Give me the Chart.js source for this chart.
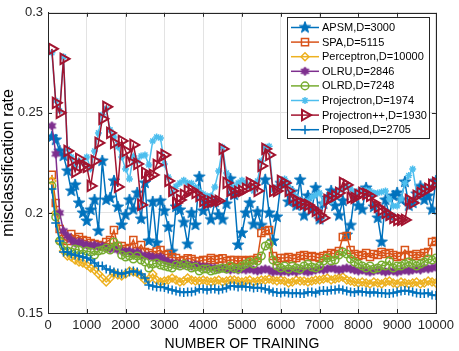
<!DOCTYPE html>
<html>
<head>
    <title>misclassification rate</title>
    <script src="https://cdn.jsdelivr.net/npm/chart.js"></script>
    <style>
        body { margin: 0; background: #fff; }
        #wrap { width: 459px; height: 351px; }
    </style>
</head>
<body>
<div id="wrap"><canvas id="myChart" width="459" height="351"></canvas></div>
<script>
// x positions: 100, 200, ... 10000
const training = [];
for (let i = 1; i <= 100; i++) training.push(i * 100);

const labels = ["APSM,D=3000", "SPA,D=5115", "Perceptron,D=10000", "OLRU,D=2846",
                "OLRD,D=7248", "Projectron,D=1974", "Projectron++,D=1930", "Proposed,D=2705"];

const apsm = [
  .238,.2365,.231,.2285,.221,.211,.214,.205,.200,.196,
  .2015,.2065,.191,.226,.2065,.2075,.216,.203,.194,.199,
  .2065,.2017,.210,.197,.215,.186,.2055,.185,.206,.201,
  .193,.1807,.203,.2015,.1953,.1844,.200,.194,.218,.201,
  .205,.1967,.2055,.199,.1967,.2045,.217,.209,.184,.190,
  .200,.205,.1943,.2005,.1938,.2165,.200,.186,.198,.2148,
  .2148,.2055,.2105,.2036,.2165,.1987,.2085,.2017,.2125,.1968,
  .2045,.2075,.211,.2035,.1987,.206,.189,.1938,.209,.2035,
  .2017,.2125,.210,.203,.1975,.1855,.2065,.1987,.2085,.210,
  .2065,.2155,.2036,.205,.2095,.2133,.2065,.2085,.2017,.216
];
const spa = [
  .219,.205,.192,.187,.186,.1895,.187,.188,.1865,.186,
  .185,.1845,.184,.1835,.1855,.1865,.1914,.1835,.1835,.182,
  .1825,.1865,.181,.184,.1805,.180,.179,.1807,.1815,.179,
  .1795,.178,.1775,.1758,.1765,.1773,.177,.176,.1758,.1765,
  .1765,.1775,.1765,.177,.1773,.176,.1765,.1765,.1757,.1765,
  .176,.1765,.1765,.1775,.190,.191,.1915,.1785,.176,.1775,
  .1775,.178,.177,.1775,.1785,.179,.178,.1785,.178,.1775,
  .1785,.179,.180,.1795,.181,.188,.1885,.1815,.1795,.1785,
  .179,.180,.178,.1795,.179,.1805,.1795,.180,.179,.178,
  .1785,.1815,.179,.1785,.1795,.1785,.180,.1805,.1855,.186
];
const perceptron = [
  .216,.200,.186,.181,.1785,.178,.1765,.1755,.175,.174,
  .1725,.1715,.1695,.1675,.1655,.1675,.170,.169,.1685,.1695,
  .171,.1705,.170,.1685,.1665,.167,.1695,.1665,.1655,.166,
  .1665,.1675,.1665,.1655,.166,.1675,.1665,.166,.166,.1665,
  .166,.1655,.166,.1665,.1655,.166,.1665,.1665,.166,.1655,
  .166,.1665,.1655,.166,.1665,.1665,.167,.1665,.166,.1665,
  .166,.165,.1655,.1665,.166,.166,.1655,.166,.1665,.1665,
  .167,.1675,.1665,.167,.1675,.168,.1665,.166,.1655,.165,
  .1655,.165,.1645,.1655,.165,.1645,.1655,.166,.165,.1645,
  .1655,.165,.1645,.165,.1655,.1645,.165,.166,.1655,.165
];
const olru = [
  .2435,.2295,.200,.191,.1885,.1865,.185,.1855,.1845,.184,
  .1835,.184,.183,.1835,.1825,.182,.1825,.1815,.181,.1805,
  .181,.1795,.1805,.179,.1785,.1785,.178,.1775,.178,.1765,
  .1755,.175,.1745,.1745,.174,.1745,.1735,.174,.1735,.173,
  .173,.1725,.1725,.172,.1725,.172,.1715,.172,.1715,.172,
  .1715,.172,.1715,.171,.1715,.172,.1715,.1705,.171,.1705,
  .171,.1705,.171,.1705,.1715,.171,.1705,.171,.1715,.172,
  .1715,.172,.1725,.172,.1715,.172,.1725,.172,.1715,.171,
  .1715,.171,.1705,.171,.1715,.171,.1705,.171,.171,.1705,
  .171,.1715,.171,.1715,.172,.1715,.1725,.172,.1725,.173
];
const olrd = [
  .2135,.198,.186,.1835,.181,.1805,.182,.1815,.1795,.181,
  .1805,.179,.181,.1815,.1825,.1815,.1855,.1835,.179,.178,
  .1785,.177,.1785,.1765,.1755,.1725,.1745,.175,.174,.1735,
  .173,.1725,.174,.1735,.1745,.1735,.1725,.173,.171,.172,
  .172,.171,.1715,.172,.1725,.172,.1735,.1725,.172,.1735,
  .1745,.1755,.1745,.176,.1785,.1835,.1845,.1765,.1735,.1725,
  .1735,.172,.1735,.1725,.172,.1735,.1745,.173,.1725,.1735,
  .176,.1775,.176,.1765,.179,.1805,.1795,.177,.1755,.1745,
  .1735,.1725,.1735,.172,.1725,.174,.1735,.176,.1725,.1735,
  .1735,.1745,.1755,.1745,.1735,.1745,.1755,.177,.1765,.1775
];
const projectron = [
  .280,.256,.251,.278,.232,.228,.223,.226,.225,.228,
  .222,.231,.240,.249,.252,.2415,.238,.233,.228,.222,
  .217,.2285,.226,.2285,.229,.224,.236,.238,.2375,.2245,
  .218,.210,.2133,.215,.2163,.215,.2148,.213,.211,.2095,
  .2085,.2085,.213,.221,.2328,.220,.2123,.213,.215,.2163,
  .215,.213,.211,.216,.226,.2328,.2333,.2113,.213,.216,
  .217,.2148,.211,.208,.2065,.206,.206,.208,.209,.210,
  .205,.206,.206,.209,.2113,.212,.2133,.212,.210,.211,
  .2113,.2113,.211,.210,.210,.2105,.211,.207,.2035,.2035,
  .207,.2148,.2187,.222,.210,.211,.2113,.212,.213,.2138
];
const projectronPP = [
  .282,.255,.250,.277,.231,.226,.2205,.227,.2235,.223,
  .2135,.226,.235,.247,.253,.240,.235,.213,.236,.231,
  .2255,.234,.2245,.204,.220,.218,.219,.224,.228,.229,
  .216,.211,.205,.2065,.209,.211,.2115,.210,.2085,.206,
  .205,.2055,.206,.206,.232,.215,.211,.210,.2105,.211,
  .212,.215,.214,.211,.2235,.232,.229,.211,.211,.216,
  .215,.211,.2075,.206,.205,.2045,.204,.2025,.201,.199,
  .1975,.2065,.2075,.2085,.210,.215,.214,.2075,.2075,.209,
  .210,.2095,.2085,.205,.203,.2015,.200,.199,.1975,.1965,
  .1965,.1965,.2065,.205,.2085,.210,.211,.212,.214,.215
];
const proposed = [
  .212,.195,.186,.1805,.1805,.1795,.179,.1785,.178,.1775,
  .1765,.175,.1735,.1735,.172,.1715,.1705,.170,.1695,.170,
  .1705,.171,.1705,.1695,.1675,.164,.1635,.163,.163,.1627,
  .162,.1615,.161,.1605,.1602,.1605,.1605,.161,.162,.162,
  .1615,.162,.162,.1615,.162,.1625,.1635,.1635,.163,.1635,
  .163,.163,.1625,.1627,.1625,.162,.1615,.1605,.1602,.160,
  .1605,.160,.1597,.160,.1597,.1597,.1605,.1605,.160,.161,
  .1612,.161,.1615,.1615,.162,.1615,.161,.1605,.1602,.161,
  .1605,.1605,.160,.1605,.160,.160,.1597,.1597,.160,.1605,
  .161,.1612,.161,.1605,.160,.1597,.1597,.160,.159,.1588
];

const xTicks = [0, 1000, 2000, 3000, 4000, 5000, 6000, 7000, 8000, 9000, 10000];
const yTicks = [0.15, 0.2, 0.25, 0.3];

// filled star markers (MATLAB pentagram / hexagram)
function starMarker(points, rOut, rIn, color) {
    const c = document.createElement("canvas");
    const s = Math.ceil(rOut * 2 + 2);
    c.width = s; c.height = s;
    const g = c.getContext("2d");
    g.beginPath();
    for (let i = 0; i < points * 2; i++) {
        const r = i % 2 === 0 ? rOut : rIn;
        const a = -Math.PI / 2 + i * Math.PI / points;
        const px = s / 2 + r * Math.cos(a), py = s / 2 + r * Math.sin(a);
        if (i === 0) g.moveTo(px, py); else g.lineTo(px, py);
    }
    g.closePath();
    g.fillStyle = color;
    g.fill();
    g.strokeStyle = color;
    g.lineWidth = 1;
    g.stroke();
    return c;
}

const pentagram = starMarker(5, 6, 2.5, "#0072BD");
const hexagram = starMarker(6, 4.5, 2.6, "#7E2F8E");

function pts(vals) { return vals.map((v, i) => ({ x: training[i], y: v })); }

function series(idx, vals, color, style, radius, bw, order, rot) {
    return {
        label: labels[idx],
        data: pts(vals),
        borderColor: color,
        backgroundColor: color,
        borderWidth: 1.5,
        pointStyle: style,
        pointRadius: radius,
        pointRotation: rot || 0,
        pointBorderColor: color,
        pointBackgroundColor: "rgba(0,0,0,0)",
        pointBorderWidth: bw,
        tension: 0,
        order: order
    };
}

const datasets = [
    series(0, apsm, "#0072BD", pentagram, 6, 1, 8),
    series(1, spa, "#D95319", "rect", 5, 1.5, 7),
    series(2, perceptron, "#EDB120", "rectRot", 4, 1.5, 6),
    series(3, olru, "#7E2F8E", hexagram, 4.5, 1, 5),
    series(4, olrd, "#77AC30", "circle", 3.8, 1.5, 4),
    series(5, projectron, "#4DBEEE", "star", 3.5, 1.5, 3),
    series(6, projectronPP, "#A2142F", "triangle", 6, 2, 2, 90),
    series(7, proposed, "#0072BD", "cross", 4.5, 1.5, 1)
];

const axisColor = "#262626";

const boxPlugin = {
    id: "box",
    afterDraw(chart) {
        const ctx = chart.ctx, a = chart.chartArea;
        const xs = chart.scales.x, ys = chart.scales.y;
        ctx.save();
        ctx.strokeStyle = axisColor;
        ctx.lineWidth = 1;
        ctx.strokeRect(Math.round(a.left) + 0.5, Math.round(a.top) + 0.5,
                       Math.round(a.right - a.left), Math.round(a.bottom - a.top));
        ctx.beginPath();
        xTicks.forEach(t => {
            const px = Math.round(xs.getPixelForValue(t)) + 0.5;
            ctx.moveTo(px, a.bottom); ctx.lineTo(px, a.bottom - 4);
            ctx.moveTo(px, a.top); ctx.lineTo(px, a.top + 4);
        });
        yTicks.forEach(t => {
            const py = Math.round(ys.getPixelForValue(t)) + 0.5;
            ctx.moveTo(a.left, py); ctx.lineTo(a.left + 4, py);
            ctx.moveTo(a.right, py); ctx.lineTo(a.right - 4, py);
        });
        ctx.stroke();

        // legend box, MATLAB style
        const lx = 287, ly = 17, lw = 142, lh = 121;
        ctx.fillStyle = "#fff";
        ctx.fillRect(lx, ly, lw, lh);
        ctx.strokeStyle = "#262626";
        ctx.strokeRect(lx + 0.5, ly + 0.5, lw, lh);
        ctx.font = "11px 'Liberation Sans', Arial, sans-serif";
        ctx.textBaseline = "middle";
        ctx.textAlign = "left";
        chart.data.datasets.forEach((ds, i) => {
            const y = 27.5 + i * 14.6;
            ctx.strokeStyle = ds.borderColor;
            ctx.lineWidth = 1.5;
            ctx.beginPath();
            ctx.moveTo(291, y); ctx.lineTo(319, y);
            ctx.stroke();
            if (Chart.helpers && Chart.helpers.drawPoint) {
                ctx.fillStyle = "rgba(0,0,0,0)";
                ctx.lineWidth = ds.pointBorderWidth;
                Chart.helpers.drawPoint(ctx, {
                    pointStyle: ds.pointStyle,
                    rotation: ds.pointRotation,
                    radius: ds.pointRadius,
                    borderWidth: ds.pointBorderWidth
                }, 305, y);
            }
            ctx.fillStyle = "#000";
            ctx.fillText(ds.label, 322, y + 0.5);
        });
        ctx.restore();
    }
};

const ctx = document.getElementById("myChart");
const mychart = new Chart(ctx, {
    type: "line",
    data: { datasets: datasets },
    options: {
        responsive: false,
        animation: false,
        devicePixelRatio: 1,
        layout: { padding: { top: 5, right: 18, left: 0, bottom: 0 } },
        plugins: { legend: { display: false }, tooltip: { enabled: false } },
        scales: {
            x: {
                type: "linear",
                min: 0,
                max: 10000,
                afterFit: s => { s.height = 38; },
                afterBuildTicks: s => { s.ticks = xTicks.map(v => ({ value: v })); },
                ticks: {
                    color: axisColor,
                    font: { family: "'Liberation Sans', Arial, sans-serif", size: 13 },
                    padding: 5,
                    maxRotation: 0,
                    callback: v => String(v)
                },
                grid: { color: "#e3e3e3", drawTicks: false },
                border: { color: axisColor },
                title: {
                    display: true,
                    text: "NUMBER OF TRAINING",
                    color: "#000",
                    font: { family: "'Liberation Sans', Arial, sans-serif", size: 14 },
                    padding: { top: 0, bottom: -2 }
                }
            },
            y: {
                min: 0.15,
                max: 0.3,
                afterFit: s => { s.width = 48; },
                afterBuildTicks: s => { s.ticks = yTicks.map(v => ({ value: v })); },
                ticks: {
                    color: axisColor,
                    font: { family: "'Liberation Sans', Arial, sans-serif", size: 13 },
                    padding: 5,
                    callback: v => String(+v.toFixed(2))
                },
                grid: { color: "#e3e3e3", drawTicks: false },
                border: { color: axisColor },
                title: {
                    display: true,
                    text: "misclassification rate",
                    color: "#000",
                    font: { family: "'Liberation Sans', Arial, sans-serif", size: 16 },
                    padding: { top: -1, bottom: 0 }
                }
            }
        }
    },
    plugins: [boxPlugin]
});
</script>
</body>
</html>
